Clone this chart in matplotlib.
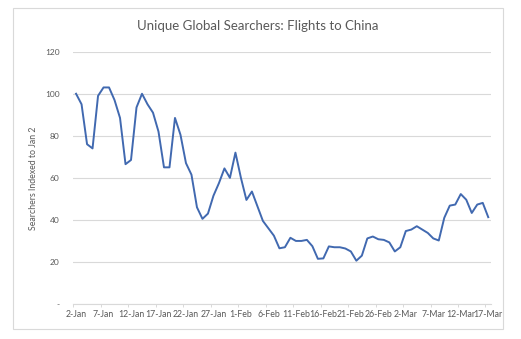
import matplotlib
matplotlib.use('Agg')
import matplotlib.pyplot as plt
from matplotlib.patches import Rectangle
import numpy as np

plt.rcParams['font.family'] = ['Lato', 'DejaVu Sans']

# Daily unique searchers, indexed so that 2 Jan = 100
searchers = [100, 95, 76, 74, 99, 103, 103, 97, 88.5, 66.5, 68.5, 93.5, 100, 95, 91,
             82, 65, 65, 88.5, 80.5, 67, 61.5, 46, 40.5, 43, 51.5, 57.5, 64.5, 60, 72,
             60, 49.5, 53.5, 46.5, 39.5, 36, 32.5, 26.5, 27, 31.5, 30, 30, 30.5, 27.5, 21.5,
             21.7, 27.4, 27, 27, 26.4, 25, 20.6, 23, 31.2, 32.1, 30.8, 30.5, 29.3, 25, 27,
             34.7, 35.4, 37, 35.4, 33.8, 31.2, 30.2, 41, 46.8, 47.3, 52.3, 49.6, 43.3, 47.3, 48.1, 41.3]
date_labels = ['2-Jan', '7-Jan', '12-Jan', '17-Jan', '22-Jan', '27-Jan', '1-Feb', '6-Feb',
               '11-Feb', '16-Feb', '21-Feb', '26-Feb', '2-Mar', '7-Mar', '12-Mar', '17-Mar']
y_ticks = [0, 20, 40, 60, 80, 100, 120]
y_labels = ['-', '20', '40', '60', '80', '100', '120']

days = np.arange(len(searchers))
label_pos = np.arange(len(date_labels)) * 5

text_col = '#595959'
grid_col = '#D9D9D9'

fig = plt.figure(figsize=(5.21, 3.39), dpi=100)
ax = fig.add_axes([0.1407, 0.1032, 0.8017, 0.7443])

ax.plot(days, searchers, color='#4169B0', lw=1.4, solid_joinstyle='round')

ax.set_xlim(-0.5, len(searchers) - 0.5)
ax.set_ylim(0, 120)
ax.set_yticks(y_ticks)
ax.set_yticklabels(y_labels)
ax.set_xticks(label_pos)
ax.set_xticklabels(date_labels)
ax.set_xticks(np.arange(-0.5, len(searchers), 5), minor=True)

ax.tick_params(axis='y', length=0, pad=10, labelsize=6, labelcolor=text_col)
ax.tick_params(axis='x', which='major', length=0, pad=4, labelsize=6.3, labelcolor=text_col)
ax.tick_params(axis='x', which='minor', length=2.5, width=0.7, color=grid_col)

ax.grid(axis='y', color=grid_col, lw=0.8)
ax.set_axisbelow(True)
for side in ['left', 'right', 'top']:
    ax.spines[side].set_visible(False)
ax.spines['bottom'].set_color(grid_col)
ax.spines['bottom'].set_linewidth(0.8)

ax.set_ylabel('Searchers Indexed to Jan 2', fontsize=6.3, color=text_col, labelpad=5)

fig.text(0.495, 0.923, 'Unique Global Searchers: Flights to China',
         ha='center', va='center', fontsize=9.5, color=text_col)

# chart frame
fig.patches.append(Rectangle((0.025, 0.0295), 0.9405, 0.947, transform=fig.transFigure,
                             fill=False, edgecolor=grid_col, lw=0.8))

fig.savefig('out.png', dpi=100)
